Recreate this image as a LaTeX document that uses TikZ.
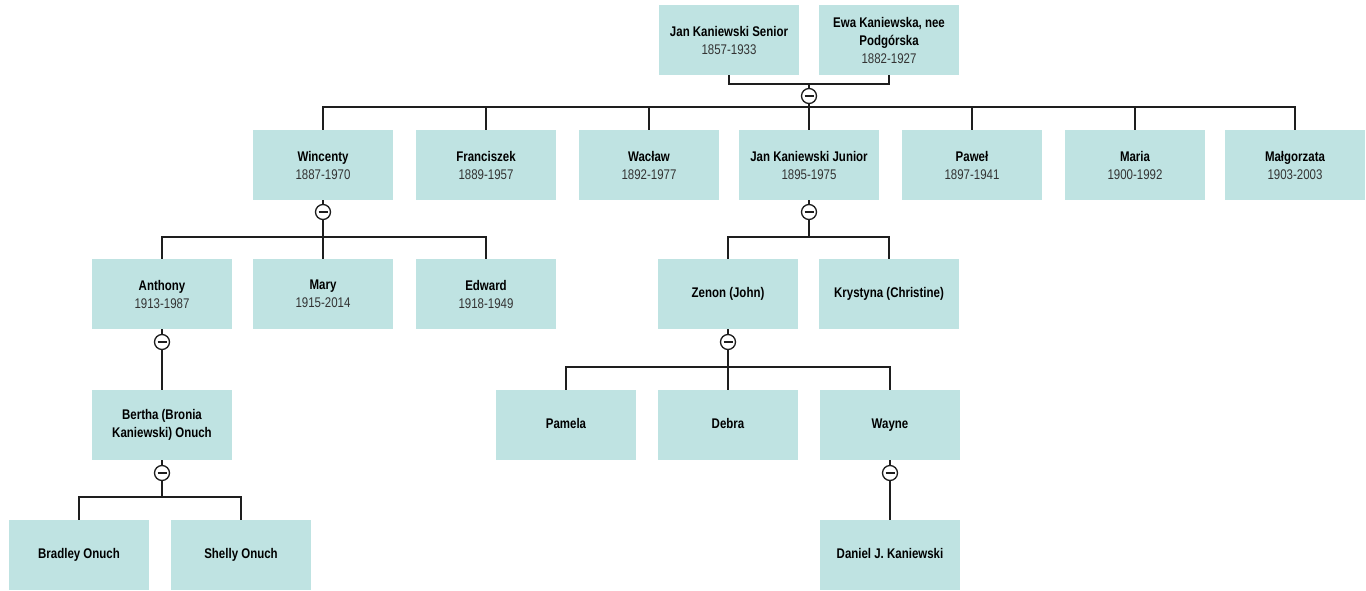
\documentclass[tikz,border=0pt]{standalone}
\usepackage{fontspec}
\setmainfont[FakeStretch=0.82]{Liberation Sans}
\definecolor{boxfill}{HTML}{BFE3E2}
\definecolor{linecol}{HTML}{1E1E1E}
\definecolor{datecol}{HTML}{333333}
\newcommand{\who}[2]{{\bfseries #1}\\{\color{datecol}#2}}
\newcommand{\one}[1]{\bfseries\strut #1}
\tikzset{
  person/.style={fill=boxfill, minimum width=140pt, minimum height=70pt,
    align=center, inner sep=2pt, text=black,
    font=\fontsize{14}{18}\selectfont},
  union/.style={circle, draw=linecol, fill=white, line width=1.3pt,
    minimum size=15pt, inner sep=0pt,
    path picture={\draw[linecol, line width=1.3pt]
      ([xshift=-4.5pt]path picture bounding box.center) --
      ([xshift=4.5pt]path picture bounding box.center);}},
  link/.style={draw=linecol, line width=1.4pt}
}
\begin{document}
\begin{tikzpicture}[x=1pt,y=-1pt]
    \useasboundingbox (0,0) rectangle (1366,590);
    % generation 0
    \node[person] (jansr) at (729,40) {\who{Jan Kaniewski Senior}{1857-1933}};
    \node[person] (ewa) at (889,40) {{\bfseries Ewa Kaniewska, nee}\\{\bfseries Podgórska}\\{\color{datecol}1882-1927}};
    % generation 1
    \node[person] (wincenty) at (323,165) {\who{Wincenty}{1887-1970}};
    \node[person] (franciszek) at (486,165) {\who{Franciszek}{1889-1957}};
    \node[person] (waclaw) at (649,165) {\who{Wacław}{1892-1977}};
    \node[person] (janjr) at (809,165) {\who{Jan Kaniewski Junior}{1895-1975}};
    \node[person] (pawel) at (972,165) {\who{Paweł}{1897-1941}};
    \node[person] (maria) at (1135,165) {\who{Maria}{1900-1992}};
    \node[person] (malgorzata) at (1295,165) {\who{Małgorzata}{1903-2003}};
    % generation 2
    \node[person] (anthony) at (162,294) {\who{Anthony}{1913-1987}};
    \node[person] (mary) at (323,294) {\who{Mary}{1915-2014}};
    \node[person] (edward) at (486,294) {\who{Edward}{1918-1949}};
    \node[person] (zenon) at (728,294) {\one{Zenon (John)}};
    \node[person] (krystyna) at (889,294) {\one{Krystyna (Christine)}};
    % generation 3
    \node[person] (bertha) at (162,425) {\bfseries Bertha (Bronia\\\bfseries Kaniewski) Onuch};
    \node[person] (pamela) at (566,425) {\one{Pamela}};
    \node[person] (debra) at (728,425) {\one{Debra}};
    \node[person] (wayne) at (890,425) {\one{Wayne}};
    % generation 4
    \node[person] (bradley) at (79,555) {\one{Bradley Onuch}};
    \node[person] (shelly) at (241,555) {\one{Shelly Onuch}};
    \node[person] (daniel) at (890,555) {\one{Daniel J. Kaniewski}};

    % unions
    \node[union] (u0) at (809,96) {};
    \node[union] (u1) at (323,212) {};
    \node[union] (u2) at (809,212) {};
    \node[union] (u3) at (162,342) {};
    \node[union] (u4) at (728,342) {};
    \node[union] (u5) at (162,473) {};
    \node[union] (u6) at (890,473) {};

    \coordinate (j0) at (809,84);
    \coordinate (b0) at (809,107);
    \coordinate (b1) at (323,237);
    \coordinate (b2) at (809,237);
    \coordinate (b4) at (728,367);
    \coordinate (b5) at (162,497);

    % connectors
    \draw[link] (jansr.south) |- (j0) -| (ewa.south);
    \draw[link] (j0) -- (u0);
    \draw[link] (u0) -- (b0);
    \foreach \c in {wincenty,franciszek,waclaw,janjr,pawel,maria,malgorzata}
    \draw[link] (b0) -| (\c.north);

    \draw[link] (wincenty.south) -- (u1);
    \draw[link] (u1) -- (b1);
    \foreach \c in {anthony,mary,edward}
    \draw[link] (b1) -| (\c.north);

    \draw[link] (janjr.south) -- (u2);
    \draw[link] (u2) -- (b2);
    \foreach \c in {zenon,krystyna}
    \draw[link] (b2) -| (\c.north);

    \draw[link] (anthony.south) -- (u3);
    \draw[link] (u3) -- (bertha.north);

    \draw[link] (zenon.south) -- (u4);
    \draw[link] (u4) -- (b4);
    \foreach \c in {pamela,debra,wayne}
    \draw[link] (b4) -| (\c.north);

    \draw[link] (bertha.south) -- (u5);
    \draw[link] (u5) -- (b5);
    \foreach \c in {bradley,shelly}
    \draw[link] (b5) -| (\c.north);

    \draw[link] (wayne.south) -- (u6);
    \draw[link] (u6) -- (daniel.north);
\end{tikzpicture}
\end{document}
